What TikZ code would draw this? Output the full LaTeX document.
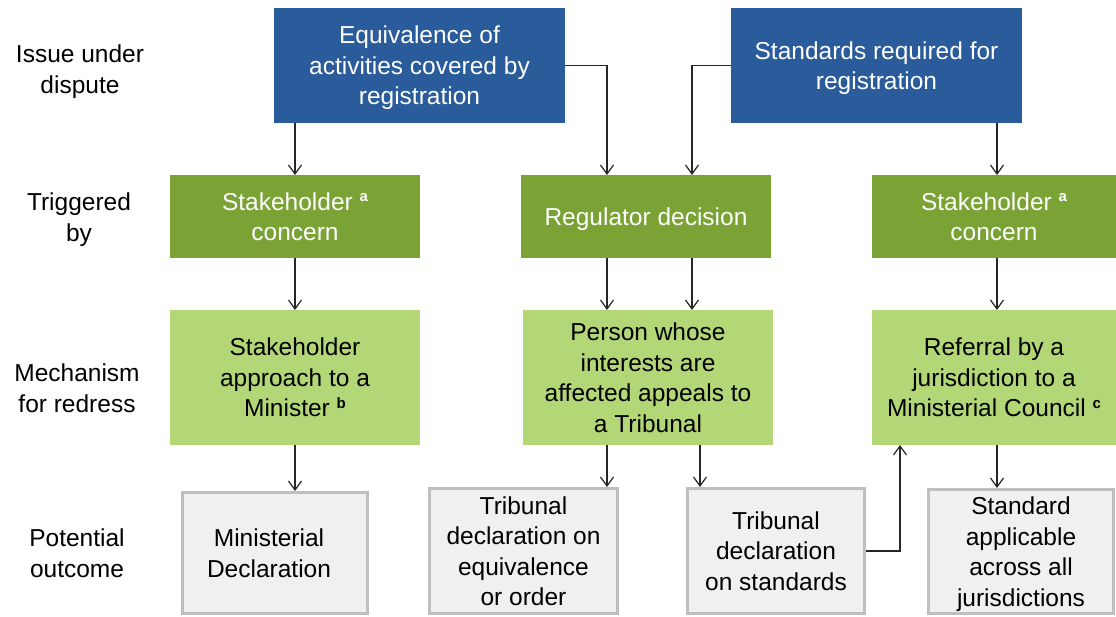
\documentclass[tikz,border=0pt]{standalone}
\usepackage{fontspec}
\setmainfont{Liberation Sans}
\usetikzlibrary{arrows.meta}
\definecolor{bluebox}{HTML}{2A5B9A}
\definecolor{darkgreen}{HTML}{7AA235}
\definecolor{lightgreen}{HTML}{B3D677}
\definecolor{greyfill}{HTML}{F0F0F0}
\definecolor{greyline}{HTML}{BFBFBF}
\newcommand{\supl}[1]{\raisebox{8.5pt}{\fontsize{15}{15}\selectfont\bfseries #1}}
\tikzset{
  box/.style={rectangle, inner sep=0pt, outer sep=0pt, align=center, anchor=center, text depth=0pt},
  issue/.style={box, fill=bluebox, text=white, minimum width=291pt, minimum height=115pt},
  trig/.style={box, fill=darkgreen, text=white, minimum height=83pt},
  mech/.style={box, fill=lightgreen, text=black, minimum height=135pt},
  outc/.style={box, fill=greyfill, draw=greyline, line width=3pt, outer sep=1.5pt, text=black},
  lbl/.style={align=center, inner sep=0pt, text=black, text depth=0pt},
  arr/.style={draw=black!85, line width=1.2pt, -{Straight Barb[length=9pt,width=13pt]}}
}
\begin{document}
\begin{tikzpicture}[x=1pt,y=-1pt,font=\fontsize{24.5}{30.5}\selectfont]
\useasboundingbox[fill=white] (0,0) rectangle (1116,617);

% row labels
\node[lbl] (l1) at (80,69) {Issue under\\dispute};
\node[lbl] (l2) at (79,217) {Triggered\\by};
\node[lbl] (l3) at (77,388) {Mechanism\\for redress};
\node[lbl] (l4) at (77,553) {Potential\\outcome};

% issues
\node[issue] (b1) at (419.5,65.5) {Equivalence of\\activities covered by\\registration};
\node[issue] (b2) at (876.5,65.5) {Standards required for\\registration};

% triggered by
\node[trig, minimum width=250pt] (g1) at (295,216.5) {Stakeholder \supl{a}\\concern};
\node[trig, minimum width=250pt] (g2) at (646,216.5) {Regulator decision};
\node[trig, minimum width=244pt] (g3) at (994,216.5) {Stakeholder \supl{a}\\concern};

% mechanism
\node[mech, minimum width=250pt] (m1) at (295,377.5) {Stakeholder\\approach to a\\Minister \supl{b}};
\node[mech, minimum width=250pt] (m2) at (648,377.5) {Person whose\\interests are\\affected appeals to\\a Tribunal};
\node[mech, minimum width=244pt] (m3) at (994,377.5) {Referral by a\\jurisdiction to a\\Ministerial Council \supl{c}};

% outcomes
\node[outc, minimum width=185pt, minimum height=121pt] (o1) at (275,553) {Ministerial\hspace*{12pt}\\Declaration\hspace*{12pt}};
\node[outc, minimum width=188pt, minimum height=125pt] (o2) at (523.5,551) {Tribunal\\declaration on\\equivalence\\or order};
\node[outc, minimum width=177pt, minimum height=125pt] (o3) at (776,551) {Tribunal\\declaration\\on standards};
\node[outc, minimum width=185pt, minimum height=124pt] (o4) at (1021,551.5) {Standard\\applicable\\across all\\jurisdictions};

% helper x positions
\coordinate (xa) at (607,0);
\coordinate (xb) at (692,0);
\coordinate (xc) at (700,0);
\coordinate (xr) at (997,0);
\coordinate (xu) at (900,0);

% connectors
\draw[arr] (b1.south -| g1) -- (g1.north);
\draw[arr] (b1.east) -| (xa |- g2.north);
\draw[arr] (b2.west) -| (xb |- g2.north);
\draw[arr] (b2.south -| xr) -- (xr |- g3.north);

\draw[arr] (g1.south) -- (m1.north);
\draw[arr] (g2.south -| xa) -- (xa |- m2.north);
\draw[arr] (g2.south -| xb) -- (xb |- m2.north);
\draw[arr] (g3.south -| xr) -- (xr |- m3.north);

\draw[arr] (m1.south) -- (o1.north -| m1);
\draw[arr] (m2.south -| xa) -- (xa |- o2.north);
\draw[arr] (m2.south -| xc) -- (xc |- o3.north);
\draw[arr] (m3.south -| xr) -- (xr |- o4.north);
\draw[arr] (o3.east) -| (xu |- m3.south);
\end{tikzpicture}
\end{document}
